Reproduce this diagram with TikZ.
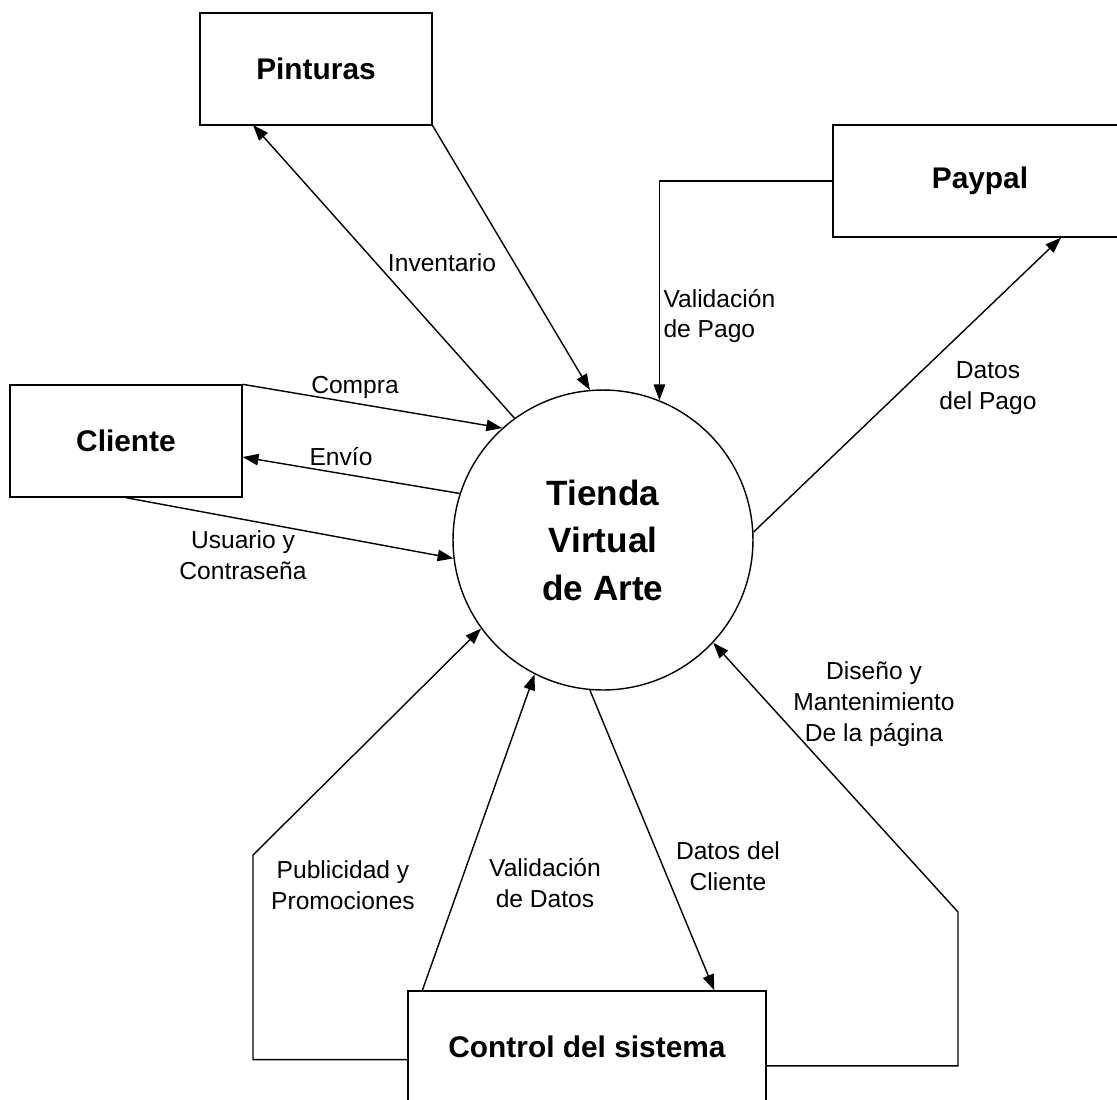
\documentclass[tikz,border=0pt]{standalone}
\usepackage{fontspec}
\setmainfont{Liberation Sans}
\usepackage{tikz}
\usetikzlibrary{arrows.meta,positioning}

\begin{document}
\begin{tikzpicture}[x=0.02cm,y=-0.02cm,line width=0.8pt,
	ent/.style={draw,rectangle,minimum width=4.64cm,minimum height=2.24cm,font=\fontsize{17}{20}\selectfont\bfseries},
	proc/.style={draw,circle,minimum size=6cm,inner sep=0pt,align=center,font=\fontsize{20}{27}\selectfont\bfseries},
	flow/.style={-{Triangle[length=9pt,width=6.5pt]}},
	lbl/.style={align=center,font=\fontsize{14}{17.5}\selectfont}]
	  \useasboundingbox (0,0) rectangle (1117,1100);
	  \node[proc] (t) at (603,540) {Tienda\\Virtual\\de Arte};
	  \node[ent] (pin) at (316,69) {Pinturas};
	  \node[ent,minimum width=5.88cm] (pay) at (980,181) {Paypal};
	  \node[ent] (cli) at (126,441) {Cliente};
	  \node[ent,minimum width=7.16cm] (ctl) at (587,1047) {Control del sistema};
	  \coordinate (pl) at (253,855);
	  \coordinate (pr) at (958,912);

	  \draw[flow] (pin.south east) -- (t.95);
	  \draw[flow] (t.126) -- (253,125);
	  \draw[flow] (cli.north east) -- (t.132);
	  \draw[flow] (t.162) -- (cli.east |- 0,457);
	  \draw[flow] (cli.south) -- (t.187);
	  \draw[flow] (pay.west) -| (t.68);
	  \draw[flow] (t.3) -- (pay.-35);
	  \draw[flow] (ctl.184) -| (pl) -- (t.216);
	  \draw[flow] (ctl.161) -- (t.243);
	  \draw[flow] (t.265) -- (ctl.24);
	  \draw[flow] (ctl.-6) -| (pr) -- (t.-43);

      \draw (442,263) node[lbl] (lInv) {Inventario};
      \draw (355,387) node[lbl] (lCom) {Compra};
      \draw (341,457) node[lbl] (lEnv) {Envío};
      \draw (243,555) node[lbl] (lUsu) {Usuario y\\Contraseña};
      \draw (657,316) node[lbl,align=left,anchor=west] (lVPa) {Validación\\de Pago};
      \draw (988,388) node[lbl] (lDPa) {Datos\\del Pago};
      \draw (343,885) node[lbl] (lPub) {Publicidad y\\Promociones};
      \draw (545,883) node[lbl] (lVDa) {Validación\\de Datos};
      \draw (728,866) node[lbl] (lDCl) {Datos del\\Cliente};
      \draw (874,704) node[lbl] (lDis) {Diseño y\\Mantenimiento\\De la página};
\end{tikzpicture}
\end{document}
